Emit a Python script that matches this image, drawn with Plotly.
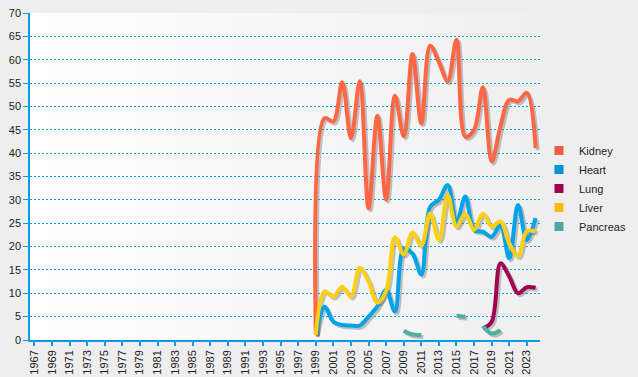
import plotly.graph_objects as go

years = list(range(1967, 2025))
pad = [None] * (1999 - 1967)

kidney = pad + [1.4, 47.5, 46.8, 55.2, 43.2, 55.4, 28.2, 48.0, 30.1, 52.3, 43.6, 61.2, 46.4,
                63.0, 59.5, 55.4, 64.3, 43.5, 45.0, 54.1, 38.2, 45.7, 51.4, 51.1, 52.9, 41.1]
heart = pad + [1.1, 7.1, 3.9, 3.2, 3.1, 3.1, 5.0, 7.2, 10.7, 6.1, 19.5, 18.5, 14.0,
               28.5, 30.0, 33.2, 25.0, 30.7, 23.6, 23.2, 22.1, 24.5, 17.5, 28.9, 21.4, 26.1]
lung = pad + [None] * 19 + [2.5, 3.9, 16.4, 13.6, 10.0, 11.3, 11.2]
liver = pad + [1.1, 10.4, 9.3, 11.4, 9.3, 15.4, 12.5, 8.0, 10.5, 22.0, 18.3, 23.0, 20.2,
               27.1, 21.4, 31.0, 24.3, 27.1, 23.6, 27.1, 24.3, 25.4, 20.7, 18.0, 23.3, 23.2]
pancreas = pad + [None] * 10 + [2.0, 1.2, 1.1, None, None, None, 5.2, 5.0, None, 3.0, 1.4, 2.1,
                                 None, None, None, None]

names = ["Kidney", "Heart", "Lung", "Liver", "Pancreas"]
series = [kidney, heart, lung, liver, pancreas]
line_colors = ["#ff6644", "#00a2e8", "#a3004f", "#ffcf14", "#4db0a4"]
legend_colors = ["#f15b42", "#0096d6", "#a0004c", "#fdb913", "#4ba99f"]

W, H = 638, 377
ML, MR, MT, MB = 30, 96, 13, 35
PW = W - ML - MR
PH = H - MT - MB
SH = 2  # shadow offset px

fig = go.Figure()

# shadows (base subplot)
for s in series:
    fig.add_trace(go.Scatter(x=years, y=s, mode="lines", xaxis="x", yaxis="y",
                             line=dict(color="rgba(0,0,0,0.22)", width=4, shape="spline", smoothing=1),
                             showlegend=False, hoverinfo="skip", connectgaps=False))
# main lines
for n, s, c in zip(names, series, line_colors):
    fig.add_trace(go.Scatter(x=years, y=s, mode="lines", xaxis="x2", yaxis="y2", name=n,
                             line=dict(color=c, width=4, shape="spline", smoothing=1),
                             showlegend=False, connectgaps=False))
# legend entries
for n, c in zip(names, legend_colors):
    fig.add_trace(go.Scatter(x=[None], y=[None], mode="markers", xaxis="x2", yaxis="y2", name=n,
                             marker=dict(symbol="square", size=9, color=c)))

# gradient background
nstrip = 60
x_end = (PW - SH) / PW
y_start = SH / PH
shapes = []
for i in range(nstrip):
    t = (i + 0.5) / nstrip
    v = round(255 - 16 * t)
    shapes.append(dict(type="rect", xref="paper", yref="paper", layer="below",
                       x0=x_end * i / nstrip, x1=x_end * (i + 1) / nstrip + 0.001,
                       y0=y_start, y1=1, line=dict(width=0),
                       fillcolor=f"rgb({v},{v},{v})"))

blue = "#0a9ddf"
font = dict(family="Liberation Sans, Arial, sans-serif", size=11, color="#222222")

fig.update_layout(
    width=W, height=H,
    margin=dict(l=ML, r=MR, t=MT, b=MB, pad=0, autoexpand=False),
    paper_bgcolor="#eeeeee", plot_bgcolor="rgba(0,0,0,0)",
    font=font,
    shapes=shapes,
    xaxis=dict(domain=[SH / PW, 1], range=[1966.5, 2024.5], visible=False, anchor="y", fixedrange=True),
    yaxis=dict(domain=[0, (PH - SH) / PH], range=[0, 70], visible=False, anchor="x", fixedrange=True),
    xaxis2=dict(domain=[0, x_end], range=[1966.5, 2024.5], anchor="y2",
                tickmode="linear", tick0=1967, dtick=2, tickangle=-90,
                ticks="outside", ticklen=4, tickwidth=1.5, tickcolor=blue,
                showline=True, linecolor=blue, linewidth=1.5, showgrid=False, zeroline=False,
                tickfont=font),
    yaxis2=dict(domain=[y_start, 1], range=[0, 70], anchor="x2", dtick=5,
                ticks="outside", ticklen=5, tickwidth=1, tickcolor=blue,
                showline=True, linecolor=blue, linewidth=1.5,
                showgrid=True, gridcolor=blue, gridwidth=1, griddash="2px,2px",
                zeroline=False, tickfont=font),
    legend=dict(x=(539 - ML) / PW, xanchor="left", y=(H - MB - 136) / PH, yanchor="top",
                font=font, bgcolor="rgba(0,0,0,0)", itemwidth=30, tracegroupgap=0),
)

fig.write_html("out.html", config={"displayModeBar": False},
               post_script="document.body.style.margin='0';document.body.style.background='#eeeeee';")
